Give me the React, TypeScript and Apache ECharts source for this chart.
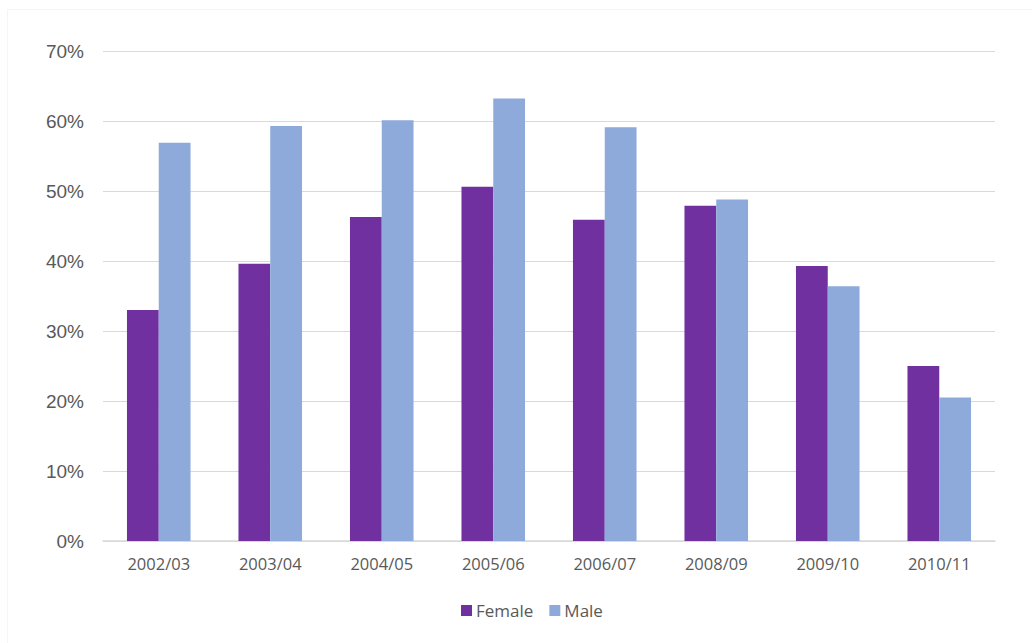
import React, { useEffect, useRef } from "react";
import * as echarts from "echarts";

const categories = ["2002/03", "2003/04", "2004/05", "2005/06", "2006/07", "2008/09", "2009/10", "2010/11"];
const female = [33.0, 39.6, 46.3, 50.6, 45.9, 47.9, 39.3, 25.0];
const male = [56.9, 59.3, 60.1, 63.2, 59.1, 48.8, 36.4, 20.5];
const seriesNames = ["Female", "Male"];

export default function App() {
  const ref = useRef<HTMLDivElement>(null);
  useEffect(() => {
    if (!ref.current) return;
    const chart = echarts.init(ref.current, undefined, { renderer: "svg" });
    chart.setOption({
      animation: false,
      backgroundColor: "#ffffff",
      graphic: [
        {
          type: "rect",
          shape: { x: 7.5, y: 9.5, width: 1040, height: 650 },
          style: { fill: "none", stroke: "#f5f5f5", lineWidth: 1 },
          silent: true,
        },
      ],
      grid: { left: 103, right: 37, top: 51, bottom: 102 },
      legend: {
        bottom: 19,
        left: 456,
        itemWidth: 11,
        itemHeight: 11,
        itemGap: 16,
        icon: "rect",
        textStyle: { fontFamily: "Open Sans", fontSize: 17, color: "#595959", padding: [0, 0, 0, -1] },
        data: seriesNames,
      },
      xAxis: {
        type: "category",
        data: categories,
        axisLine: { lineStyle: { color: "#d9d9d9", width: 1.5 } },
        axisTick: { show: false },
        axisLabel: { fontFamily: "Open Sans", fontSize: 16.5, color: "#595959", margin: 14 },
      },
      yAxis: {
        type: "value",
        min: 0,
        max: 70,
        interval: 10,
        axisLine: { show: false },
        axisTick: { show: false },
        splitLine: { lineStyle: { color: "#d9d9d9", width: 1.2 } },
        axisLabel: {
          formatter: "{value}%",
          fontFamily: "Liberation Sans",
          fontSize: 19,
          color: "#595959",
          margin: 19,
        },
      },
      series: [
        {
          name: seriesNames[0],
          type: "bar",
          data: female,
          itemStyle: { color: "#7030a0" },
          barGap: "0%",
          barCategoryGap: "43%",
        },
        {
          name: seriesNames[1],
          type: "bar",
          data: male,
          itemStyle: { color: "#8eaadb" },
          barGap: "0%",
          barCategoryGap: "43%",
        },
      ],
    });
    return () => chart.dispose();
  }, []);
  return <div ref={ref} style={{ position: "absolute", left: 0, top: 0, width: 1032, height: 643 }} />;
}
